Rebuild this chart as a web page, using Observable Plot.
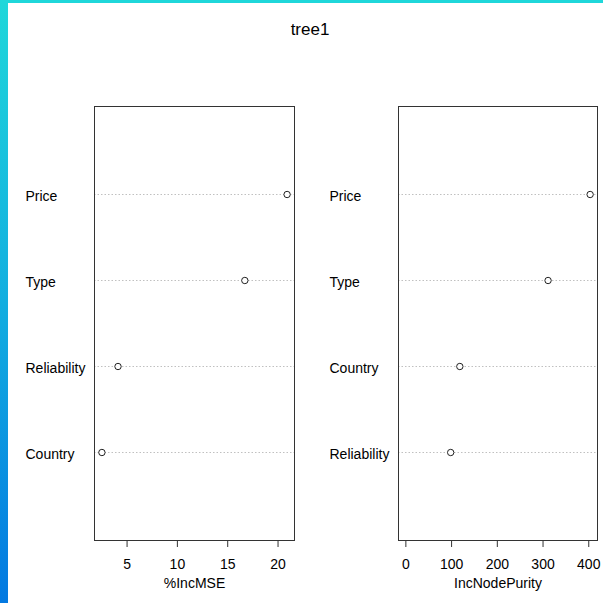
<!DOCTYPE html>
<html>
<head>
<meta charset="utf-8">
<script src="https://cdn.jsdelivr.net/npm/d3@7"></script>
<script src="https://cdn.jsdelivr.net/npm/@observablehq/plot@0.6"></script>
<style>
  html, body { margin: 0; padding: 0; background: #fff; }
  #wrap { position: relative; width: 603px; height: 603px; overflow: hidden; background: #fff;
          font-family: "Liberation Sans", Arial, sans-serif; }
  #lstrip { position: absolute; left: 0; top: 0; width: 8px; height: 603px;
            background: linear-gradient(to bottom, #1fd7da 0%, #12aee0 50%, #0379e1 100%); }
  #tstrip { position: absolute; left: 0; top: 0; width: 603px; height: 3px; background: #1fd7da; }
  #title { position: absolute; left: 210px; width: 200px; top: 20px; text-align: center;
           font-size: 17px; color: #000; }
  .panel { position: absolute; top: 0; }
</style>
</head>
<body>
<div id="wrap">
  <div id="lstrip"></div>
  <div id="tstrip"></div>
  <div id="title">tree1</div>
  <div id="p1" class="panel" style="left:0px"></div>
  <div id="p2" class="panel" style="left:300px"></div>
</div>
<script>
// Panel 1: %IncMSE (sorted, top to bottom)
const vars1 = ["Price", "Type", "Reliability", "Country"];
const incMSE = [20.9, 16.7, 4.1, 2.5];
const ticks1 = [5, 10, 15, 20];
const label1 = "%IncMSE";

// Panel 2: IncNodePurity (sorted, top to bottom)
const vars2 = ["Price", "Type", "Country", "Reliability"];
const nodePurity = [403, 311, 118, 98];
const ticks2 = [0, 100, 200, 300, 400];
const label2 = "IncNodePurity";

function rDomain(vals, fromZero) {
  const lo = fromZero ? Math.min(0, d3.min(vals)) : d3.min(vals);
  const hi = d3.max(vals);
  const pad = (hi - lo) * 0.04;
  return [lo - pad, hi + pad];
}

function panel(names, values, ticks, label, fromZero, width, marginLeft) {
  const data = names.map((n, i) => ({name: n, value: values[i]}));
  return Plot.plot({
    width, height: 603,
    marginLeft, marginRight: 6, marginTop: 106, marginBottom: 63,
    style: {fontFamily: '"Liberation Sans", Arial, sans-serif', fontSize: "14px",
            color: "#000", background: "transparent", overflow: "visible"},
    x: {domain: rDomain(values, fromZero), axis: null},
    y: {type: "point", domain: names, padding: 1, axis: null},
    marks: [
      Plot.ruleY(data, {y: "name", stroke: "#c0c0c0", strokeDasharray: "1.5,2", strokeWidth: 1}),
      Plot.frame({stroke: "#333", strokeWidth: 1}),
      Plot.dot(data, {x: "value", y: "name", r: 3.2, stroke: "#222", fill: "white", strokeWidth: 1}),
      Plot.axisX({ticks, tickSize: 7, tickPadding: 12, label: null, fontSize: 14, stroke: "#333"}),
      Plot.text(data, {y: "name", text: "name", frameAnchor: "left", textAnchor: "start",
                       dx: -69, dy: 2, fontSize: 14, fill: "#000"}),
      Plot.text([label], {text: d => d, frameAnchor: "bottom", dy: 47, fontSize: 14, fill: "#000"})
    ]
  });
}

document.getElementById("p1").append(panel(vars1, incMSE, ticks1, label1, false, 300, 94));
document.getElementById("p2").append(panel(vars2, nodePurity, ticks2, label2, true, 303, 98));
</script>
</body>
</html>
